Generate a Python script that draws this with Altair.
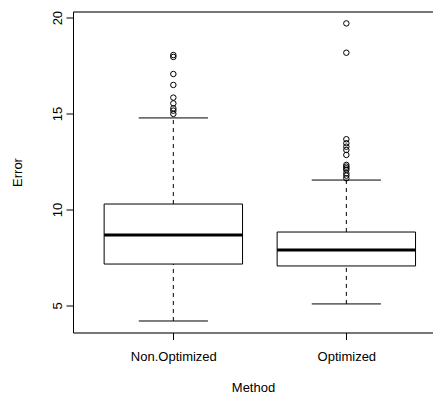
import altair as alt
import pandas as pd

# ---- data ----
methods = ["Non.Optimized", "Optimized"]
lower_whisker = [4.18, 5.07]
q1 = [7.15, 7.05]
median = [8.66, 7.88]
q3 = [10.28, 8.82]
upper_whisker = [14.77, 11.53]
outliers_non_optimized = [18.05, 17.95, 17.06, 16.49, 15.83, 15.53, 15.27, 15.15, 14.98]
outliers_optimized = [19.70, 18.17, 13.66, 13.45, 13.27, 13.10, 12.84, 12.32, 12.23,
                      12.14, 12.06, 11.88, 11.76, 11.62]
y_ticks = [5, 10, 15, 20]

# ---- layout / style constants ----
BOX_HALF = 0.4
CAP_HALF = 0.2
PLOT_W = 360
PX_PER_UNIT = 173.0
X_DOMAIN = [0.42, 0.42 + PLOT_W / PX_PER_UNIT]
Y_DOMAIN = [3.58, 20.32]
FONT = "Liberation Sans"

positions = list(range(1, len(methods) + 1))

stats = pd.DataFrame({
    "Method": methods,
    "pos": positions,
    "lo": lower_whisker,
    "q1": q1,
    "med": median,
    "q3": q3,
    "hi": upper_whisker,
})
stats["box_l"] = stats["pos"] - BOX_HALF
stats["box_r"] = stats["pos"] + BOX_HALF
stats["cap_l"] = stats["pos"] - CAP_HALF
stats["cap_r"] = stats["pos"] + CAP_HALF

whiskers = pd.concat([
    pd.DataFrame({"pos": stats["pos"], "y1": stats["q3"], "y2": stats["hi"]}),
    pd.DataFrame({"pos": stats["pos"], "y1": stats["lo"], "y2": stats["q1"]}),
], ignore_index=True)

caps = pd.concat([
    pd.DataFrame({"cap_l": stats["cap_l"], "cap_r": stats["cap_r"], "y": stats["hi"]}),
    pd.DataFrame({"cap_l": stats["cap_l"], "cap_r": stats["cap_r"], "y": stats["lo"]}),
], ignore_index=True)

out_rows = []
for m, p, vals in zip(methods, positions, [outliers_non_optimized, outliers_optimized]):
    for v in vals:
        out_rows.append({"Method": m, "pos": p, "value": v})
outs = pd.DataFrame(out_rows)

xscale = alt.Scale(domain=X_DOMAIN, nice=False, zero=False)
yscale = alt.Scale(domain=Y_DOMAIN, nice=False, zero=False)

label_expr = "[" + ",".join("'" + m + "'" for m in methods) + "][datum.value - 1]"

x_axis_bottom = alt.Axis(
    values=positions, labelExpr=label_expr, labelOverlap=False, labelFlush=False,
    grid=False, tickColor="black", tickSize=7, tickWidth=1,
    domainColor="black", domainWidth=1,
    labelPadding=11, labelFontSize=13, labelColor="black", labelFont=FONT,
    title="Method", titleFontSize=13, titleFontWeight="normal", titleColor="black",
    titleFont=FONT, titleY=59, titleBaseline="alphabetic",
)
x_axis_top = alt.Axis(
    orient="top", labels=False, ticks=False, grid=False,
    domainColor="black", domainWidth=1,
)
y_axis = alt.Axis(
    values=y_ticks, grid=False, tickColor="black", tickSize=7, tickWidth=1,
    domainColor="black", domainWidth=1,
    labelAngle=270, labelAlign="center", labelBaseline="alphabetic",
    labelPadding=5, labelFontSize=13, labelColor="black", labelFont=FONT,
    titleFontSize=13, titleFontWeight="normal", titleColor="black",
    titleFont=FONT, titleAngle=270, titleAlign="center", titleBaseline="alphabetic",
    titleX=-52, titleY=160.5,
)

def Y(field):
    return alt.Y(field, scale=yscale, axis=y_axis, title="Error")

whisker_layer = alt.Chart(whiskers).mark_rule(
    color="black", strokeWidth=1, strokeDash=[4, 4]
).encode(
    x=alt.X("pos:Q", scale=xscale, axis=None),
    y=Y("y1:Q"),
    y2="y2:Q",
)

cap_layer = alt.Chart(caps).mark_rule(color="black", strokeWidth=1).encode(
    x=alt.X("cap_l:Q", scale=xscale, axis=None),
    x2="cap_r:Q",
    y=Y("y:Q"),
)

box_layer = alt.Chart(stats).mark_rect(
    fill="white", stroke="black", strokeWidth=1
).encode(
    x=alt.X("box_l:Q", scale=xscale, axis=x_axis_bottom),
    x2="box_r:Q",
    y=Y("q1:Q"),
    y2="q3:Q",
)

median_layer = alt.Chart(stats).mark_rule(color="black", strokeWidth=3).encode(
    x=alt.X("box_l:Q", scale=xscale, axis=None),
    x2="box_r:Q",
    y=Y("med:Q"),
)

outlier_layer = alt.Chart(outs).mark_point(
    shape="circle", filled=False, color="black", size=30, strokeWidth=1, opacity=1
).encode(
    x=alt.X("pos:Q", scale=xscale, axis=x_axis_top, title=None),
    y=Y("value:Q"),
)

chart = alt.layer(
    whisker_layer, cap_layer, box_layer, median_layer, outlier_layer
).resolve_axis(
    x="independent"
).properties(
    width=PLOT_W, height=321,
    autosize=alt.AutoSizeParams(type="none"),
    padding={"left": 65, "top": 3.5, "right": 0, "bottom": 62.5},
    background="white",
).configure_view(
    stroke=None
).configure(
    font=FONT
)

chart.save("out.html", embed_options={"renderer": "svg", "actions": False})
